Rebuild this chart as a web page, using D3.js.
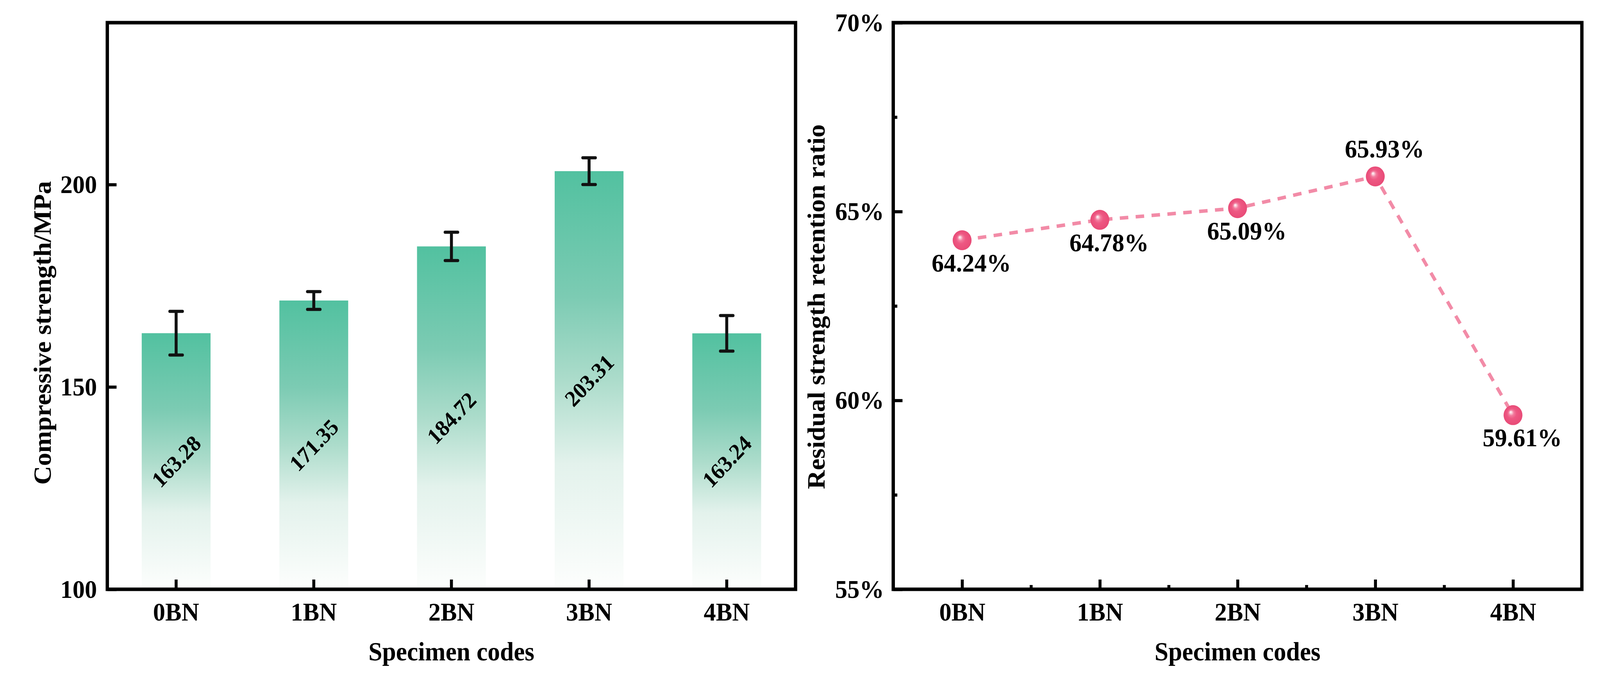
<!DOCTYPE html>
<html>
<head>
<meta charset="utf-8">
<script src="https://cdn.jsdelivr.net/npm/d3@7/dist/d3.min.js"></script>
<style>
  html, body { margin: 0; padding: 0; background: #fff; overflow: hidden; width: 100%; height: 100%; }
  svg { display: block; width: 100vw; height: 100vh; }
  text { font-family: "Liberation Serif", "Times New Roman", serif; font-weight: bold; fill: #000; }
</style>
</head>
<body>
<svg id="chart" viewBox="0 0 4324 1735" preserveAspectRatio="none"></svg>
<script>
// data
var codes = ["0BN", "1BN", "2BN", "3BN", "4BN"];
var strength = [163.28, 171.35, 184.72, 203.31, 163.24];
var strengthErr = [5.4, 2.2, 3.5, 3.3, 4.4];
var strengthTicks = [100, 150, 200];
var retention = [64.24, 64.78, 65.09, 65.93, 59.61];
var retentionSide = ["below", "below", "below", "above", "below"];
var retentionTicks = [55, 60, 65, 70];
var retentionMinor = [57.5, 62.5, 67.5];

var svg = d3.select("#chart");
svg.append("rect").attr("width", 4324).attr("height", 1735).attr("fill", "#fff");

var defs = svg.append("defs");

// green fade for the bars (per bar bounding box)
var barGrad = defs.append("linearGradient")
    .attr("id", "barGrad")
    .attr("x1", 0).attr("y1", 0).attr("x2", 0).attr("y2", 1);
[[0, "#52c1a0"], [0.3, "#7ccbb3"], [0.5, "#acdccb"], [0.7, "#e3f2ec"], [1, "#fdfefd"]]
  .forEach(function(s) { barGrad.append("stop").attr("offset", s[0]).attr("stop-color", s[1]); });

// shiny pink sphere
var ballGrad = defs.append("radialGradient")
    .attr("id", "ballGrad")
    .attr("cx", 0.5).attr("cy", 0.5).attr("r", 0.5)
    .attr("fx", 0.37).attr("fy", 0.34);
[[0, "#ffffff"], [0.1, "#fbd6e0"], [0.28, "#f27b9d"], [0.5, "#ee5883"], [1, "#e84b77"]]
  .forEach(function(s) { ballGrad.append("stop").attr("offset", s[0]).attr("stop-color", s[1]); });

var plotTop = 58, plotBottom = 1508;
var fontTick = 66, fontTitle = 67;

// ---------- left panel: compressive strength ----------
var L = {left: 290, right: 2150};

var xL = d3.scaleBand()
    .domain(codes)
    .range([L.left, L.right])
    .paddingInner(0.5)
    .paddingOuter(0.25);

var yL = d3.scaleLinear()
    .domain([100, 240])
    .range([plotBottom, plotTop]);

var gL = svg.append("g");

// bars
gL.selectAll(".bar")
  .data(strength)
  .enter().append("rect")
    .attr("class", "bar")
    .attr("x", function(d, i) { return xL(codes[i]); })
    .attr("width", xL.bandwidth())
    .attr("y", function(d) { return yL(d); })
    .attr("height", function(d) { return yL(100) - yL(d); })
    .attr("fill", "url(#barGrad)");

// error bars
var eb = gL.selectAll(".err")
  .data(strength)
  .enter().append("g")
    .attr("class", "err")
    .attr("transform", function(d, i) { return "translate(" + (xL(codes[i]) + xL.bandwidth() / 2) + ",0)"; });
eb.append("line")
    .attr("y1", function(d, i) { return yL(d + strengthErr[i]); })
    .attr("y2", function(d, i) { return yL(d - strengthErr[i]); })
    .attr("stroke", "#111").attr("stroke-width", 8);
eb.append("line")
    .attr("x1", -17).attr("x2", 17)
    .attr("y1", function(d, i) { return yL(d + strengthErr[i]); })
    .attr("y2", function(d, i) { return yL(d + strengthErr[i]); })
    .attr("stroke", "#111").attr("stroke-width", 8).attr("stroke-linecap", "round");
eb.append("line")
    .attr("x1", -17).attr("x2", 17)
    .attr("y1", function(d, i) { return yL(d - strengthErr[i]); })
    .attr("y2", function(d, i) { return yL(d - strengthErr[i]); })
    .attr("stroke", "#111").attr("stroke-width", 8).attr("stroke-linecap", "round");

// value labels, tilted, half way up each bar
gL.selectAll(".val")
  .data(strength)
  .enter().append("text")
    .attr("class", "val")
    .attr("transform", function(d, i) {
      return "translate(" + (xL(codes[i]) + xL.bandwidth() / 2) + "," + yL((d + 100) / 2) + ") rotate(-45)";
    })
    .attr("text-anchor", "middle")
    .attr("dy", "0.35em")
    .style("font-size", "58px")
    .text(function(d) { return d.toFixed(2); });

// axes
gL.append("g")
    .attr("transform", "translate(0," + plotBottom + ")")
    .call(d3.axisBottom(xL).tickSize(-25).tickPadding(33));
gL.append("g")
    .attr("transform", "translate(" + L.left + ",0)")
    .call(d3.axisLeft(yL).tickValues(strengthTicks).tickSize(-25).tickPadding(28));

// frame
gL.append("rect")
    .attr("x", L.left).attr("y", plotTop)
    .attr("width", L.right - L.left).attr("height", plotBottom - plotTop)
    .attr("fill", "none").attr("stroke", "#000").attr("stroke-width", 9);

gL.append("text")
    .attr("x", (L.left + L.right) / 2).attr("y", 1690)
    .attr("text-anchor", "middle")
    .style("font-size", fontTitle + "px")
    .text("Specimen codes");

gL.append("text")
    .attr("transform", "translate(137,852) rotate(-90)")
    .attr("text-anchor", "middle")
    .style("font-size", fontTitle + "px")
    .text("Compressive strength/MPa");

// ---------- right panel: retention ratio ----------
var R = {left: 2414, right: 4275};

var xR = d3.scalePoint()
    .domain(codes)
    .range([R.left, R.right])
    .padding(0.5);

var yR = d3.scaleLinear()
    .domain([55, 70])
    .range([plotBottom, plotTop]);

var gR = svg.append("g");

var minorX = codes.slice(1).map(function(c, i) { return (xR(codes[i]) + xR(c)) / 2; });
var xMinorScale = d3.scaleLinear().domain([R.left, R.right]).range([R.left, R.right]);

gR.append("g")
    .attr("transform", "translate(0," + plotBottom + ")")
    .call(d3.axisBottom(xMinorScale).tickValues(minorX).tickSize(-11).tickFormat(""));
gR.append("g")
    .attr("transform", "translate(" + R.left + ",0)")
    .call(d3.axisLeft(yR).tickValues(retentionMinor).tickSize(-11).tickFormat(""));

gR.append("g")
    .attr("transform", "translate(0," + plotBottom + ")")
    .call(d3.axisBottom(xR).tickSize(-25).tickPadding(33));
gR.append("g")
    .attr("transform", "translate(" + R.left + ",0)")
    .call(d3.axisLeft(yR).tickValues(retentionTicks).tickSize(-25).tickPadding(25)
      .tickFormat(function(d) { return d + "%"; }));

// dashed connecting line
gR.append("path")
    .datum(retention)
    .attr("fill", "none")
    .attr("stroke", "#f28ba7")
    .attr("stroke-width", 9)
    .attr("stroke-dasharray", "23,20")
    .attr("d", d3.line()
      .x(function(d, i) { return xR(codes[i]); })
      .y(function(d) { return yR(d); }));

gR.selectAll(".ball")
  .data(retention)
  .enter().append("circle")
    .attr("class", "ball")
    .attr("cx", function(d, i) { return xR(codes[i]); })
    .attr("cy", function(d) { return yR(d); })
    .attr("r", 25.5)
    .attr("fill", "url(#ballGrad)");

gR.selectAll(".pct")
  .data(retention)
  .enter().append("text")
    .attr("class", "pct")
    .attr("x", function(d, i) { return xR(codes[i]) + 25; })
    .attr("y", function(d, i) { return yR(d) + (retentionSide[i] === "above" ? -48 : 80); })
    .attr("text-anchor", "middle")
    .style("font-size", "66px")
    .text(function(d) { return d.toFixed(2) + "%"; });

gR.append("rect")
    .attr("x", R.left).attr("y", plotTop)
    .attr("width", R.right - R.left).attr("height", plotBottom - plotTop)
    .attr("fill", "none").attr("stroke", "#000").attr("stroke-width", 9);

gR.append("text")
    .attr("x", (R.left + R.right) / 2).attr("y", 1690)
    .attr("text-anchor", "middle")
    .style("font-size", fontTitle + "px")
    .text("Specimen codes");

gR.append("text")
    .attr("transform", "translate(2228,785) rotate(-90)")
    .attr("text-anchor", "middle")
    .style("font-size", fontTitle + "px")
    .text("Residual strength retention ratio");

// axis styling
svg.selectAll(".domain").remove();
svg.selectAll(".tick line").attr("stroke", "#000").attr("stroke-width", 8);
svg.selectAll(".tick text").style("font-size", fontTick + "px").attr("fill", "#000");
</script>
</body>
</html>
